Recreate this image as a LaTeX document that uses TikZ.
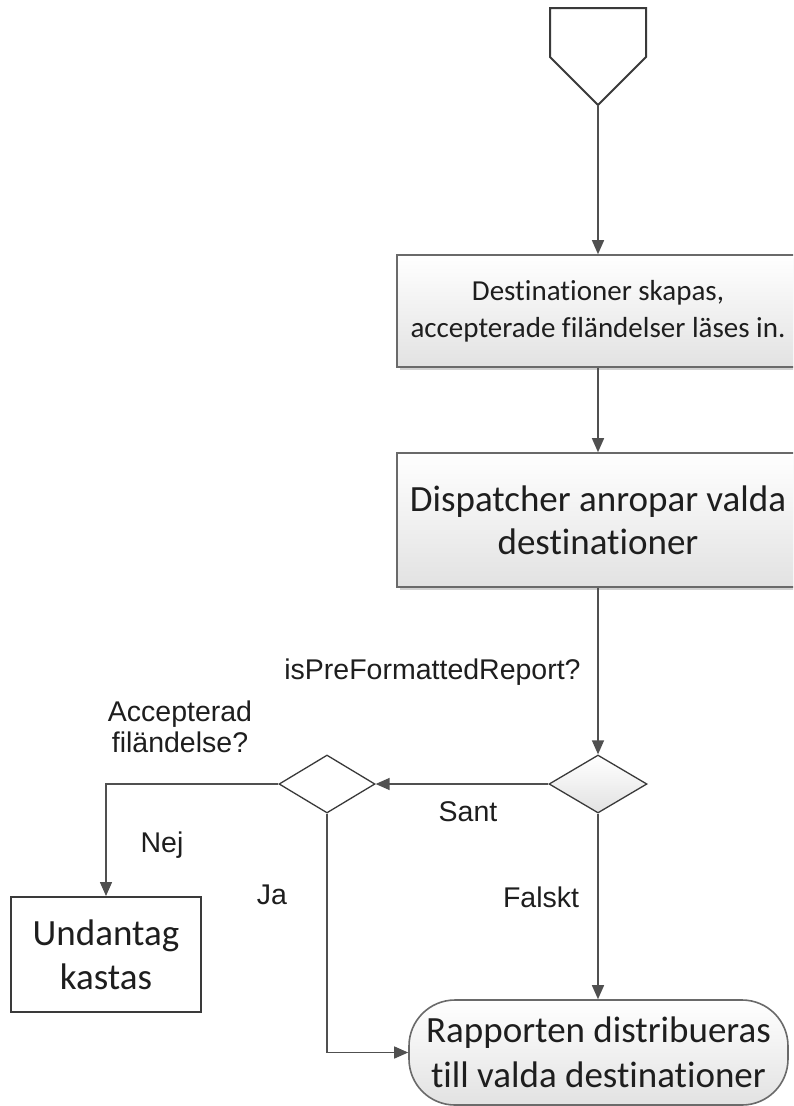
\documentclass[tikz,border=0pt]{standalone}
\usepackage{fontspec}
\usetikzlibrary{shapes.geometric,arrows.meta,shadows}
\newfontfamily\calfont[Ligatures={NoCommon}]{Carlito}
\newfontfamily\arifont{Liberation Sans}
\definecolor{lncol}{HTML}{505050}
\definecolor{bdcol}{HTML}{6A6A6A}
\definecolor{dkcol}{HTML}{3A3A3A}
\definecolor{txcol}{HTML}{1E1E1E}
\definecolor{shbot}{HTML}{E2E2E2}
\tikzset{
  conn/.style={draw=lncol,line width=1.4pt,-{Triangle[length=14pt,width=12pt]}},
  procbox/.style={rectangle,draw=bdcol,line width=1.6pt,top color=white,bottom color=shbot,
    inner sep=0pt,align=center,text=txcol,
    drop shadow={shadow xshift=2.5pt,shadow yshift=-2.5pt,fill=black,opacity=0.18}},
  decis/.style={diamond,draw=dkcol,line width=1.3pt,inner sep=0pt,aspect=1.69},
  lbl/.style={font=\arifont\fontsize{28.5}{32}\selectfont,text=txcol,inner sep=0pt,align=center},
}
\begin{document}
\begin{tikzpicture}[x=1pt,y=-1pt]
\useasboundingbox (0,0) rectangle (793,1106);
\clip (0,0) rectangle (793,1106);
\fill[white] (0,0) rectangle (793,1106);
% off-page connector
\draw[draw=dkcol,line width=2pt,line join=miter,fill=white] (550,8) -- (646,8) -- (646,57) -- (598,105) -- (550,57) -- cycle;
\coordinate (start) at (598,105);
% boxes
\node[procbox,minimum width=402pt,minimum height=112pt,font=\calfont\fontsize{29}{37}\selectfont] (b1) at (598,311)
  {Destinationer skapas,\\accepterade filändelser läses in.};
\node[procbox,minimum width=402pt,minimum height=134pt,font=\calfont\fontsize{37}{43}\selectfont] (b2) at (598,520)
  {Dispatcher anropar valda\\destinationer};
\node[decis,minimum width=98pt,minimum height=58pt,top color=white,bottom color=shbot] (d1) at (598,784) {};
\node[decis,minimum width=96pt,minimum height=58pt,fill=white] (d2) at (327,784) {};
\node[rectangle,draw=dkcol,line width=2pt,fill=white,minimum width=190pt,minimum height=115pt,inner sep=0pt,
  align=center,text=txcol,font=\calfont\fontsize{37}{44}\selectfont] (u) at (106,954.5) {Undantag\\kastas};
\node[rectangle,rounded corners=46pt,draw=bdcol,line width=1.6pt,top color=white,bottom color=shbot,
  minimum width=379pt,minimum height=105pt,inner sep=0pt,align=center,text=txcol,
  font=\calfont\fontsize{37}{45}\selectfont] (r) at (598.5,1052.5) {Rapporten distribueras\\till valda destinationer};
% connectors
\draw[conn] (start) -- (b1.north);
\draw[conn] (b1.south) -- (b2.north);
\draw[conn] (b2.south) -- (d1.north);
\draw[conn] (d1.west) -- (d2.east);
\draw[conn] (d2.west) -| (u.north);
\draw[conn] (d2.south) |- (r.west);
\draw[conn] (d1.south) -- (d1.south |- r.north);
% labels
\node[lbl] (lq1) at (432.5,672) {isPreFormattedReport?};
\node[lbl,font=\arifont\fontsize{28.5}{31}\selectfont] (lq2) at (180,727) {Accepterad\\filändelse?};
\node[lbl] (lsant) at (468,812) {Sant};
\node[lbl] (lnej) at (162,845) {Nej};
\node[lbl] (lja) at (272,895) {Ja};
\node[lbl] (lfal) at (541,897) {Falskt};
\end{tikzpicture}
\end{document}
